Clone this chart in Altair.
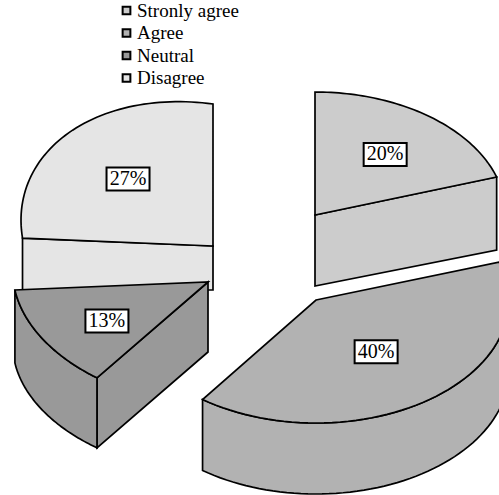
import math
import altair as alt
import pandas as pd

categories = ["Stronly agree", "Agree", "Neutral", "Disagree"]
shares = [20, 40, 13, 27]
fills = ["#cccccc", "#b2b2b2", "#999999", "#e5e5e5"]

# Tilted, exploded wedges: apex, ellipse radii, shears, extrusion depth at each wedge end,
# and how far along the radius each value label sits.
frames = {
    "Stronly agree": dict(cx=315, cy=215, a=191, b=123, s=0.0, k=0.0, d0=71, d1=73, rx=0.625, ry=0.608),
    "Agree": dict(cx=316, cy=300, a=193, b=123, s=0.0, k=0.0, d0=71, d1=71, rx=0.53, ry=0.52),
    "Neutral": dict(cx=208, cy=282, a=195.2, b=124, s=0.039, k=0.037, d0=70, d1=73, rx=0.61, ry=0.69),
    "Disagree": dict(cx=213, cy=246, a=192, b=142, s=0.135, k=0.0, d0=52, d1=44, rx=0.59, ry=0.59),
}


def rim(f, deg):
    t = math.radians(deg)
    dx = f["a"] * math.sin(t)
    dy = -f["b"] * math.cos(t)
    return f["cx"] + dx + f["k"] * dy, f["cy"] + dy + f["s"] * dx


def sweep(start, end, n=60):
    return [start + (end - start) * i / n for i in range(n + 1)]


starts, total = [], 0
for v in shares:
    starts.append(total)
    total += v * 3.6

rows, labels = [], []


def add_face(name, cat, pts):
    for i, (x, y) in enumerate(pts):
        rows.append(dict(face=name, category=cat, seq=i, x=x, y=y))


for cat, v, t0 in zip(categories, shares, starts):
    f = frames[cat]
    t1 = t0 + v * 3.6
    apex = (f["cx"], f["cy"])
    a0, a1 = rim(f, t0), rim(f, t1)
    if cat == "Stronly agree":
        # Cut face towards the Agree wedge
        add_face(cat + " side", cat, [apex, a1, (a1[0], a1[1] + f["d1"]), (apex[0], apex[1] + f["d0"])])
    elif cat == "Agree":
        # Outer wall along the front of the rim
        top = [rim(f, t) for t in sweep(t0 + 18, t1)]
        add_face(cat + " side", cat, top + [(x, y + f["d0"]) for x, y in reversed(top)])
    elif cat == "Neutral":
        # Cut face on the right and outer wall on the left
        add_face(cat + " cut", cat, [apex, a0, (a0[0], a0[1] + f["d0"]), (apex[0], apex[1] + f["d0"])])
        top = [rim(f, t) for t in sweep(t0, t1)]
        n = len(top) - 1
        low = [(x, y + f["d0"] + (f["d1"] - f["d0"]) * i / n) for i, (x, y) in enumerate(top)]
        add_face(cat + " wall", cat, top + low[::-1])
    else:
        # Cut face towards the centre, partly hidden by the Neutral wedge
        add_face(cat + " side", cat, [a0, apex, (apex[0], apex[1] + f["d1"]), (a0[0], a0[1] + f["d0"])])
    add_face(cat + " top", cat, [apex] + [rim(f, t) for t in sweep(t0, t1)])
    mid = rim(f, (t0 + t1) / 2)
    labels.append(dict(
        text=f"{v}%",
        x=f["cx"] + (mid[0] - f["cx"]) * f["rx"],
        y=f["cy"] + (mid[1] - f["cy"]) * f["ry"],
    ))

# Disagree is painted first so the Neutral wedge overlaps it.
paint_order = ["Disagree", "Stronly agree", "Agree", "Neutral"]
faces = pd.DataFrame(rows)
faces["rank"] = faces["category"].map(paint_order.index)
faces = faces.sort_values(["rank"], kind="stable")

x_scale = alt.X("x:Q", scale=alt.Scale(domain=[0, 499], range=[0, 499]), axis=None)
y_scale = alt.Y("y:Q", scale=alt.Scale(domain=[0, 495], range=[0, 495]), axis=None)

wedges = alt.Chart(faces).mark_line(
    interpolate="linear-closed", stroke="black", strokeWidth=1.7, clip=True, strokeJoin="miter"
).encode(
    x=x_scale,
    y=y_scale,
    order="seq:Q",
    detail="face:N",
    fill=alt.Fill(
        "category:N",
        scale=alt.Scale(domain=categories, range=fills),
        sort=categories,
        legend=alt.Legend(
            title=None,
            orient="none",
            legendX=117,
            legendY=1,
            symbolType="square",
            symbolSize=60,
            symbolStrokeColor="black",
            symbolStrokeWidth=2,
            labelFont="Liberation Serif",
            labelFontSize=19,
            labelColor="black",
            labelOffset=1,
            rowPadding=2.5,
            labelLimit=200,
        ),
    ),
)

label_df = pd.DataFrame(labels)
boxes = alt.Chart(label_df).mark_rect(
    width=43, height=23, fill="white", stroke="black", strokeWidth=2
).encode(x=x_scale, y=y_scale)
texts = alt.Chart(label_df).mark_text(
    font="Liberation Serif", fontSize=20, color="black", baseline="middle", align="center"
).encode(x=x_scale, y=y_scale, text="text:N")

chart = (wedges + boxes + texts).properties(
    width=499,
    height=495,
    padding=0,
    autosize=alt.AutoSizeParams(type="none"),
).configure_view(stroke=None)

chart.save("out.html", embed_options={"renderer": "svg", "actions": False})
